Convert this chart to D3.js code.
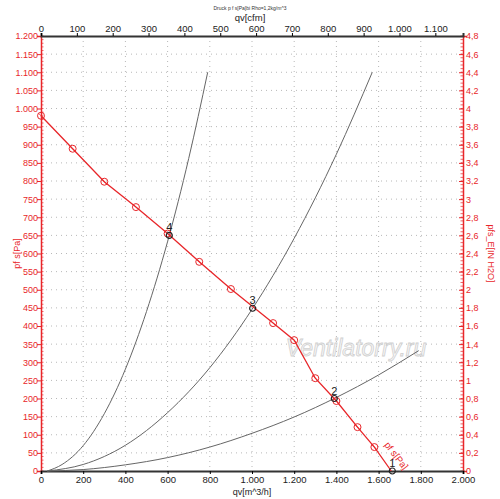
<!DOCTYPE html>
<html>
<head>
<meta charset="utf-8">
<script src="https://cdn.jsdelivr.net/npm/d3@7"></script>
<style>
  body { margin: 0; background: #fff; }
  text { font-family: "Liberation Sans", Arial, sans-serif; }
</style>
</head>
<body>
<div id="chart"></div>
<script>
// Kennlinie des Ventilators (qv in m^3/h, pf s in Pa)
const fanQ = [0, 150, 300, 450, 600, 750, 900, 1100, 1200, 1300, 1400, 1500, 1580, 1660];
const fanP = [980, 889, 798, 728, 655, 577, 502, 408, 361, 256, 193, 121, 66, 0];

// Anlagenkennlinien (graue Kurven)
const sysAQ = [30, 100, 200, 300, 400, 500, 600, 700, 790];
const sysAP = [0, 18, 70, 158, 281, 440, 633, 862, 1100];
const sysBQ = [30, 200, 400, 600, 800, 1000, 1200, 1400, 1570];
const sysBP = [0, 18, 71, 161, 285, 446, 642, 874, 1100];
const sysCQ = [30, 200, 400, 600, 800, 1000, 1200, 1400, 1600, 1790];
const sysCP = [0, 4, 17, 37, 66, 104, 149, 203, 265, 332];

// Betriebspunkte
const opLabels = ["1", "2", "3", "4"];
const opQ = [1665, 1390, 1003, 608];
const opP = [0, 200, 449, 650];

// Achsen
const xTicks = [0, 200, 400, 600, 800, 1000, 1200, 1400, 1600, 1800, 2000];
const cfmTicks = [0, 100, 200, 300, 400, 500, 600, 700, 800, 900, 1000, 1100];
const paTicks = d3.range(0, 1201, 50);
const inTicks = d3.range(0, 4.81, 0.2).map(v => +v.toFixed(1));

const width = 500, height = 499;
const mLeft = 41, mRight = 463, mTop = 36, mBottom = 471;

const loc = d3.formatLocale({ decimal: ",", thousands: ".", grouping: [3], currency: ["", ""] });
const fmtInt = loc.format(",d");
const fmtIn = v => loc.format(",")(+v.toFixed(1));

const svg = d3.select("#chart").append("svg")
    .attr("width", width)
    .attr("height", height);

const x = d3.scaleLinear().domain([0, 2000]).range([mLeft, mRight]);
const xCfm = d3.scaleLinear().domain([0, 2000 / 1.699]).range([mLeft, mRight]);
const y = d3.scaleLinear().domain([0, 1200]).range([mBottom, mTop]);
const yIn = d3.scaleLinear().domain([0, 4.8]).range([mBottom, mTop]);

// Gitter
svg.append("g").selectAll("line")
    .data(paTicks.slice(1, -1))
    .enter().append("line")
    .attr("x1", mLeft).attr("x2", mRight)
    .attr("y1", d => y(d)).attr("y2", d => y(d))
    .attr("stroke", "#b8b8b8").attr("stroke-dasharray", "1,4");
svg.append("g").selectAll("line")
    .data(xTicks.slice(1, -1))
    .enter().append("line")
    .attr("y1", mTop).attr("y2", mBottom)
    .attr("x1", d => x(d)).attr("x2", d => x(d))
    .attr("stroke", "#b8b8b8").attr("stroke-dasharray", "1,4");

// Wasserzeichen
svg.append("text")
    .attr("x", 356).attr("y", 356)
    .attr("text-anchor", "middle")
    .attr("font-size", 23).attr("font-style", "italic")
    .attr("fill", "#f6f6f6").attr("stroke", "#cccccc").attr("stroke-width", 0.8)
    .attr("opacity", 0.9)
    .text("Ventilatorry.ru");

// Linke Achse (Pa)
const yAxisL = d3.axisLeft(y).tickValues(paTicks).tickSize(4).tickFormat(fmtInt);
const gL = svg.append("g").attr("transform", `translate(${mLeft},0)`).call(yAxisL);
gL.select(".domain").attr("stroke", "#e8262a").attr("stroke-width", 1.5);
gL.selectAll(".tick line").attr("stroke", "#e8262a");
gL.selectAll("text").attr("fill", "#e8262a").attr("font-size", 9).attr("x", -3);
svg.append("g").selectAll("line")
    .data(d3.range(0, 1201, 10))
    .enter().append("line")
    .attr("x1", mLeft).attr("x2", mLeft + 2.5)
    .attr("y1", d => y(d)).attr("y2", d => y(d))
    .attr("stroke", "#e8262a").attr("stroke-width", 0.7);

// Rechte Achse (IN H2O)
const yAxisR = d3.axisRight(yIn).tickValues(inTicks).tickSize(4).tickFormat(fmtIn);
const gR = svg.append("g").attr("transform", `translate(${mRight},0)`).call(yAxisR);
gR.select(".domain").attr("stroke", "#e8262a").attr("stroke-width", 1.5);
gR.selectAll(".tick line").attr("stroke", "#e8262a").attr("x2", -4);
gR.selectAll("text").attr("fill", "#e8262a").attr("font-size", 9).attr("x", 3);
svg.append("g").selectAll("line")
    .data(d3.range(0, 4.81, 0.04))
    .enter().append("line")
    .attr("x1", mRight).attr("x2", mRight - 2.5)
    .attr("y1", d => yIn(d)).attr("y2", d => yIn(d))
    .attr("stroke", "#e8262a").attr("stroke-width", 0.7);

// Untere Achse (m^3/h)
const xAxisB = d3.axisBottom(x).tickValues(xTicks).tickSize(3).tickFormat(fmtInt);
const gB = svg.append("g").attr("transform", `translate(0,${mBottom})`).call(xAxisB);
gB.select(".domain").attr("stroke", "#333").attr("stroke-width", 2);
gB.selectAll("text").attr("fill", "#222").attr("font-size", 9.5).attr("y", 5);

// Obere Achse (cfm)
const xAxisT = d3.axisTop(xCfm).tickValues(cfmTicks).tickSize(3).tickFormat(fmtInt);
const gT = svg.append("g").attr("transform", `translate(0,${mTop})`).call(xAxisT);
gT.select(".domain").attr("stroke", "#333").attr("stroke-width", 2);
gT.selectAll("text").attr("fill", "#222").attr("font-size", 9.5).attr("y", -4);

// Achsentitel
svg.append("text").attr("x", 250).attr("y", 10).attr("text-anchor", "middle")
    .attr("font-size", 5).attr("fill", "#333").text("Druck p f s[Pa]bi Rho=1,2kg/m^3");
svg.append("text").attr("x", 250).attr("y", 21).attr("text-anchor", "middle")
    .attr("font-size", 9.5).attr("fill", "#222").text("qv[cfm]");
svg.append("text").attr("x", 252).attr("y", 495).attr("text-anchor", "middle")
    .attr("font-size", 9).attr("fill", "#222").text("qv[m^3/h]");
svg.append("text").attr("transform", `translate(20,${y(600)}) rotate(-90)`)
    .attr("text-anchor", "middle").attr("font-size", 9).attr("fill", "#e8262a").text("pf s[Pa]");
svg.append("text").attr("transform", `translate(488,${yIn(2.4)}) rotate(90)`)
    .attr("text-anchor", "middle").attr("font-size", 9).attr("fill", "#e8262a").text("pfs_E[IN H2O]");

// Anlagenkennlinien
const sysLine = d3.line().x(d => x(d[0])).y(d => y(d[1])).curve(d3.curveMonotoneX);
[[sysAQ, sysAP], [sysBQ, sysBP], [sysCQ, sysCP]].forEach(([qs, ps]) => {
    svg.append("path")
        .attr("d", sysLine(qs.map((q, i) => [q, ps[i]])))
        .attr("fill", "none").attr("stroke", "#666").attr("stroke-width", 1);
});

// Ventilatorkennlinie
const fanData = fanQ.map((q, i) => [q, fanP[i]]);
svg.append("path")
    .attr("d", d3.line().x(d => x(d[0])).y(d => y(d[1]))(fanData))
    .attr("fill", "none").attr("stroke", "#e8262a").attr("stroke-width", 1.3);
const marks = svg.append("g").selectAll("g")
    .data(fanData.slice(0, -1))
    .enter().append("g")
    .attr("transform", d => `translate(${x(d[0])},${y(d[1])})`);
marks.append("circle").attr("r", 3.5)
    .attr("fill", "none").attr("stroke", "#e8262a").attr("stroke-width", 1);
marks.append("line").attr("x1", -2.5).attr("y1", -2.5).attr("x2", 2.5).attr("y2", 2.5)
    .attr("stroke", "#e8262a").attr("stroke-width", 0.8);

// Beschriftung der Kennlinie
const a = fanData.length - 3;
const ang = Math.atan2(y(fanP[a + 2]) - y(fanP[a]), x(fanQ[a + 2]) - x(fanQ[a])) * 180 / Math.PI;
svg.append("text")
    .attr("transform", `translate(${x(1625)},${y(72)}) rotate(${ang})`)
    .attr("font-size", 9.5).attr("fill", "#e8262a").text("pf s[Pa]");

// Betriebspunkte
const ops = svg.append("g").selectAll("g")
    .data(opLabels.map((l, i) => ({ l, q: opQ[i], p: opP[i] })))
    .enter().append("g")
    .attr("transform", d => `translate(${x(d.q)},${y(d.p)})`);
ops.append("circle").attr("r", 3).attr("fill", "none")
    .attr("stroke", "#222").attr("stroke-width", 1.2);
ops.append("text").attr("x", 0).attr("y", -4).attr("text-anchor", "middle")
    .attr("font-size", 11).attr("fill", "#222").text(d => d.l);
</script>
</body>
</html>
